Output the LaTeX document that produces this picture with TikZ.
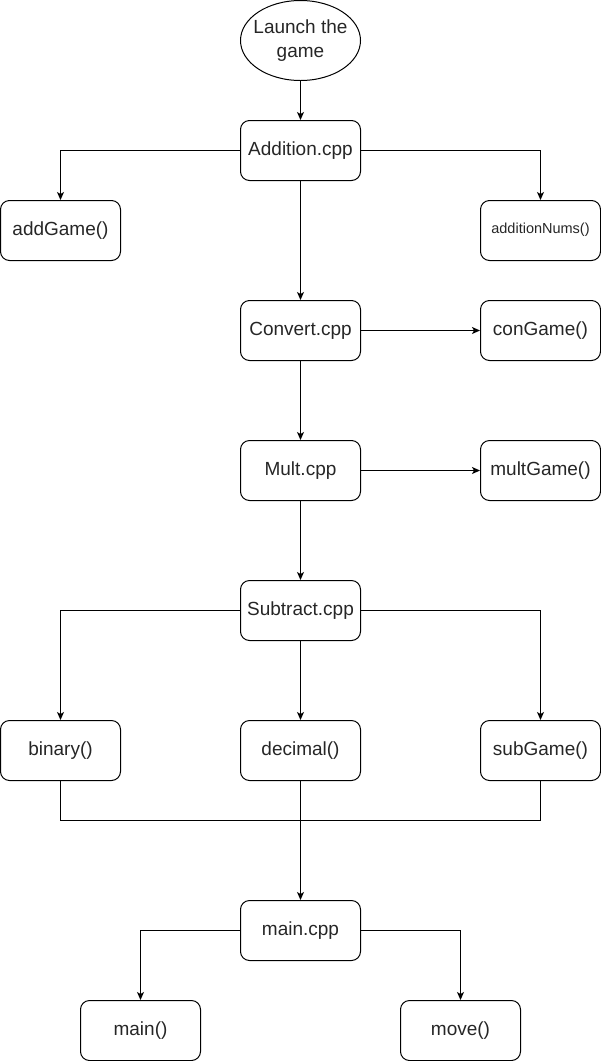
\documentclass[tikz,border=0pt]{standalone}
\usepackage{fontspec}
\setmainfont{Liberation Sans}
\usetikzlibrary{arrows.meta,shapes.geometric}

\begin{document}
\begin{tikzpicture}[x=1pt,y=-1pt,
   box/.style={draw,line width=1pt,rounded corners=9pt,minimum width=120pt,minimum height=60pt,
     inner sep=0pt,align=center,text=black!85,font=\fontsize{19}{22}\selectfont},
   start/.style={draw,line width=1pt,ellipse,minimum width=120pt,minimum height=80pt,
     inner xsep=-12pt,inner ysep=-6pt,align=center,text=black!85,font=\fontsize{19}{24}\selectfont},
   flow/.style={-{Stealth[length=8pt,width=7pt,inset=2pt]},line width=1pt},
   link/.style={line width=1pt}]
  \useasboundingbox (0,0) rectangle (601,1061);
  \node[start] (launch) at (300.5,40.5) {Launch the\\game};
  \node[box] (add) at (300.5,150.5) {Addition.cpp};
  \node[box] (addgame) at (60.5,230.5) {addGame()};
  \node[box,font=\fontsize{14.5}{16}\selectfont] (addnums) at (540.5,230.5) {\strut additionNums()};
  \node[box] (conv) at (300.5,330.5) {Convert.cpp};
  \node[box] (congame) at (540.5,330.5) {conGame()};
  \node[box] (mult) at (300.5,470.5) {Mult.cpp};
  \node[box] (multgame) at (540.5,470.5) {multGame()};
  \node[box] (sub) at (300.5,610.5) {Subtract.cpp};
  \node[box] (bin) at (60.5,750.5) {binary()};
  \node[box] (dec) at (300.5,750.5) {decimal()};
  \node[box] (subgame) at (540.5,750.5) {subGame()};
  \coordinate (join) at (300.5,820.5);
  \node[box] (mainc) at (300.5,930.5) {main.cpp};
  \node[box] (mainf) at (140.5,1030.5) {main()};
  \node[box] (move) at (460.5,1030.5) {move()};
  % launch and addition
  \draw[flow] (launch) -- (add);
  \draw[flow] (add.west) -| (addgame);
  \draw[flow] (add.east) -| (addnums);
  \draw[flow] (add) -- (conv);
  % convert, mult
  \draw[flow] (conv) -- (congame);
  \draw[flow] (conv) -- (mult);
  \draw[flow] (mult) -- (multgame);
  \draw[flow] (mult) -- (sub);
  % subtract
  \draw[flow] (sub.west) -| (bin);
  \draw[flow] (sub) -- (dec);
  \draw[flow] (sub.east) -| (subgame);
  \draw[link] (bin) |- (join) -| (subgame);
  \draw[flow] (dec) -- (mainc);
  % main
  \draw[flow] (mainc.west) -| (mainf);
  \draw[flow] (mainc.east) -| (move);
\end{tikzpicture}
\end{document}
